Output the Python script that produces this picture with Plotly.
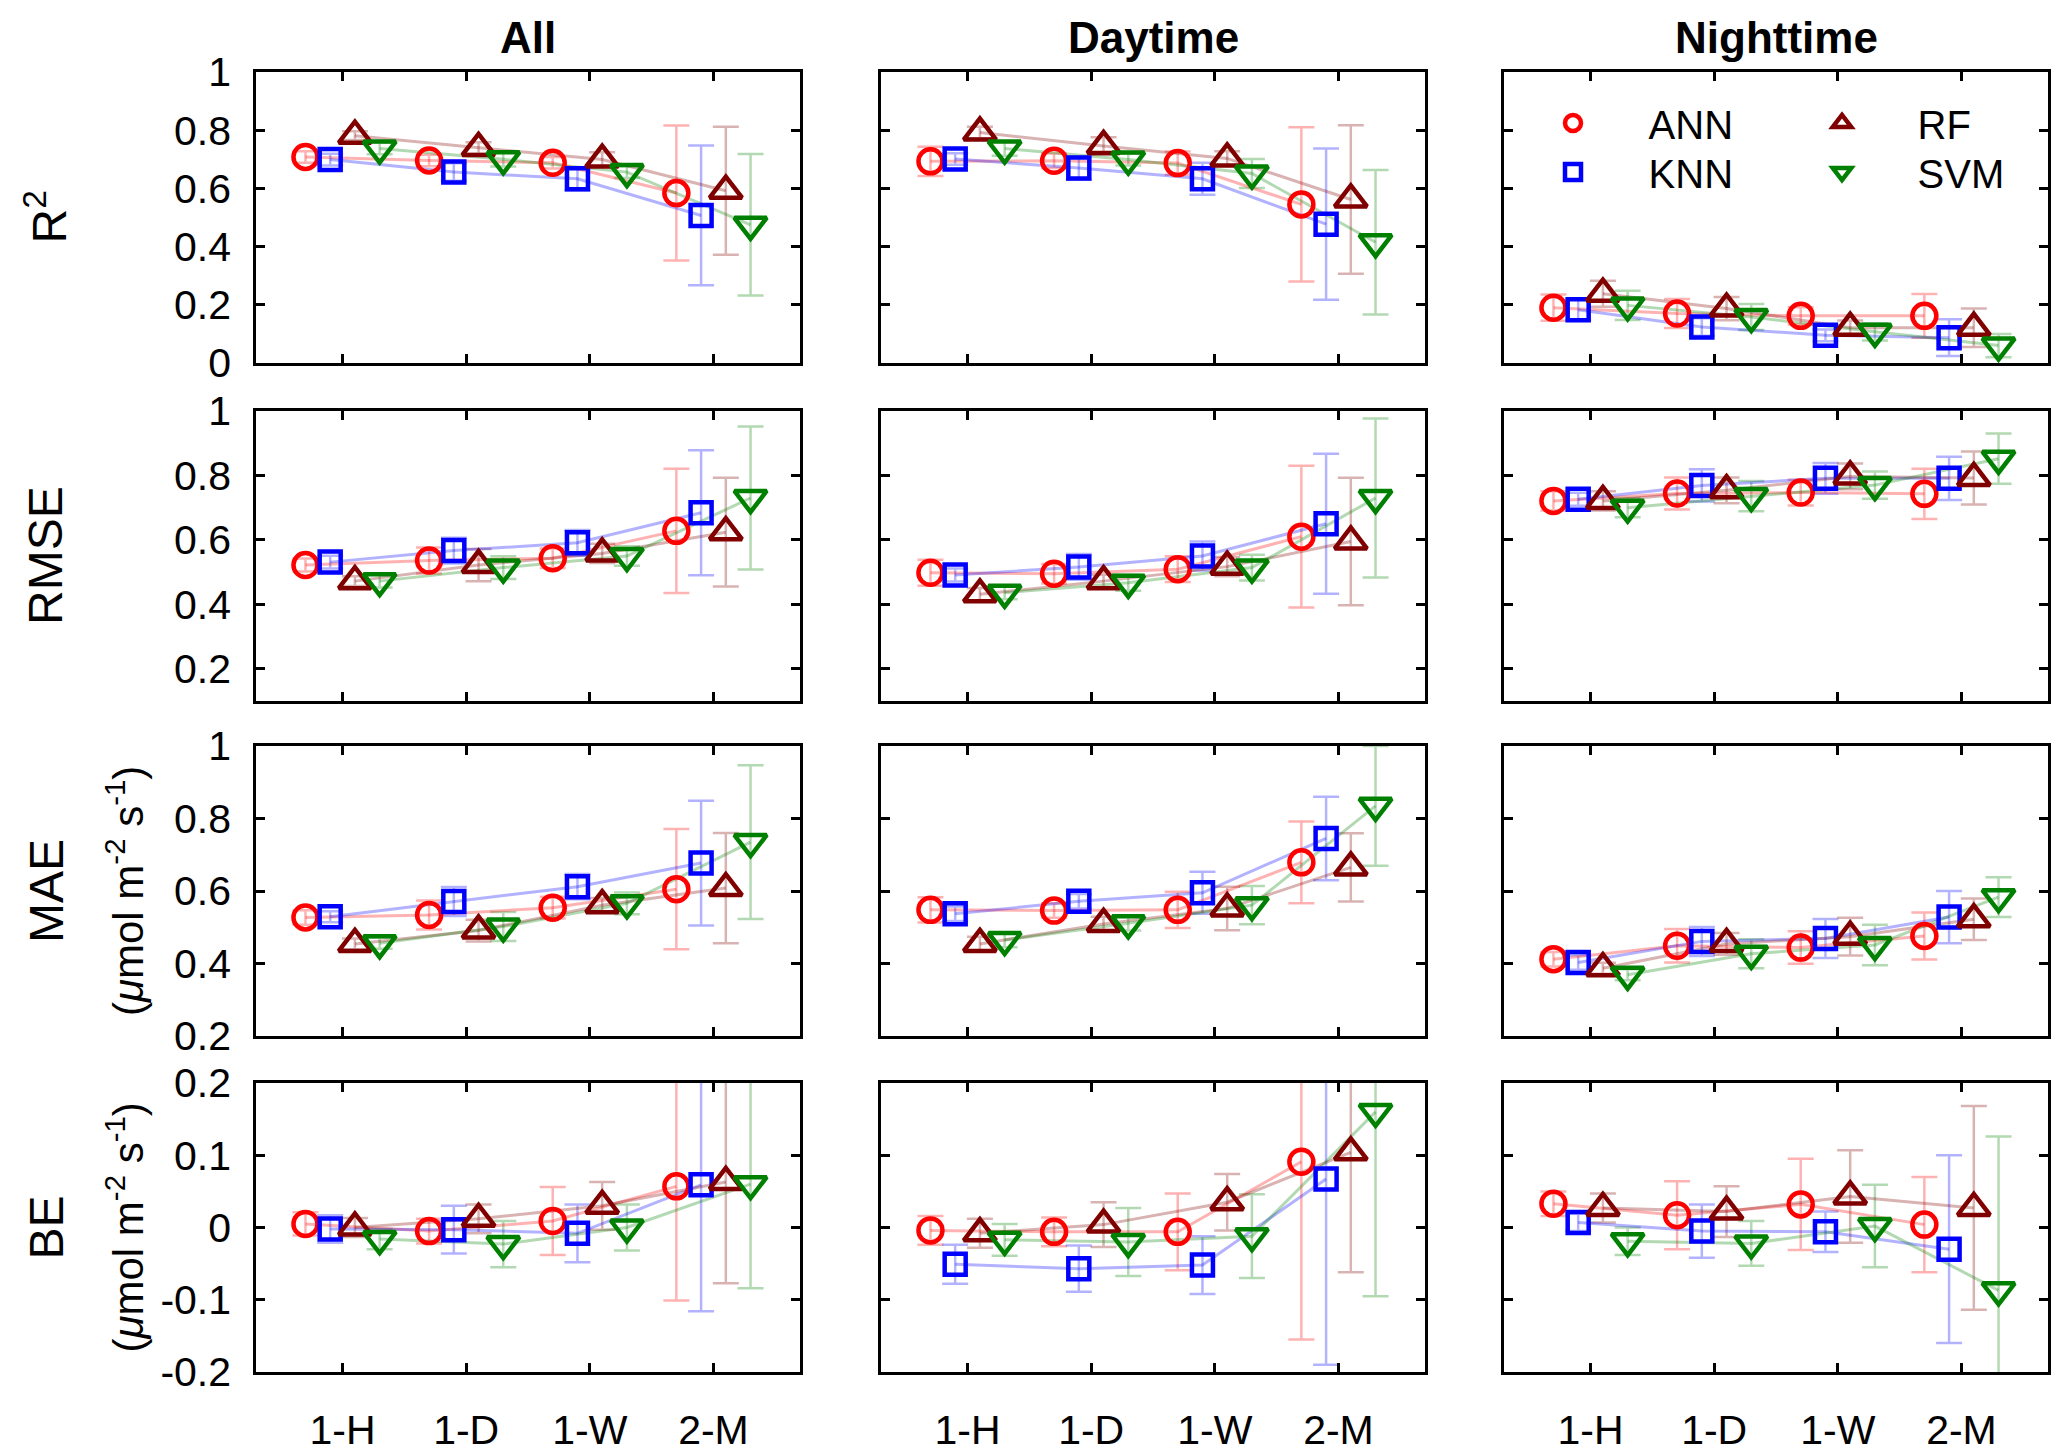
import plotly.graph_objects as go

# ---------------- data ----------------
CATEGORIES = ["1-H", "1-D", "1-W", "2-M"]
MODELS = ["ANN", "KNN", "RF", "SVM"]
PERIODS = ["All", "Daytime", "Nighttime"]
METRIC_LABELS = ["R<sup>2</sup>", "RMSE", "MAE", "BE"]
UNIT_LABEL = "(<i>μ</i>mol m<sup>-2</sup> s<sup>-1</sup>)"

# y tick values / labels per metric row
R2_TICKS = [0, 0.2, 0.4, 0.6, 0.8, 1]
R2_TICKTEXT = ["0", "0.2", "0.4", "0.6", "0.8", "1"]
RMSE_TICKS = [0.2, 0.4, 0.6, 0.8, 1]
RMSE_TICKTEXT = ["0.2", "0.4", "0.6", "0.8", "1"]
MAE_TICKS = [0.2, 0.4, 0.6, 0.8, 1]
MAE_TICKTEXT = ["0.2", "0.4", "0.6", "0.8", "1"]
BE_TICKS = [-0.2, -0.1, 0, 0.1, 0.2]
BE_TICKTEXT = ["-0.2", "-0.1", "0", "0.1", "0.2"]

R2_RANGE = [0, 1]
RMSE_RANGE = [0.1, 1]
MAE_RANGE = [0.2, 1]
BE_RANGE = [-0.2, 0.2]

# ---- R2 ----
R2_ALL = {"ANN": [0.708, 0.696, 0.688, 0.584], "KNN": [0.699, 0.656, 0.633, 0.507],
          "RF": [0.781, 0.739, 0.699, 0.592], "SVM": [0.737, 0.700, 0.656, 0.475]}
R2_ALL_ERR = {"ANN": [0.02, 0.02, 0.02, 0.232], "KNN": [0.02, 0.03, 0.04, 0.24],
              "RF": [0.015, 0.02, 0.025, 0.22], "SVM": [0.02, 0.025, 0.02, 0.243]}
R2_DAY = {"ANN": [0.693, 0.695, 0.687, 0.545], "KNN": [0.701, 0.670, 0.633, 0.477],
          "RF": [0.792, 0.746, 0.703, 0.562], "SVM": [0.737, 0.699, 0.651, 0.415]}
R2_DAY_ERR = {"ANN": [0.05, 0.025, 0.04, 0.265], "KNN": [0.02, 0.04, 0.055, 0.26],
              "RF": [0.02, 0.03, 0.025, 0.255], "SVM": [0.025, 0.02, 0.05, 0.248]}
R2_NIGHT = {"ANN": [0.190, 0.170, 0.162, 0.162], "KNN": [0.183, 0.124, 0.095, 0.087],
            "RF": [0.238, 0.187, 0.121, 0.121], "SVM": [0.198, 0.158, 0.107, 0.060]}
R2_NIGHT_ERR = {"ANN": [0.045, 0.05, 0.03, 0.075], "KNN": [0.035, 0.03, 0.02, 0.063],
                "RF": [0.045, 0.04, 0.025, 0.066], "SVM": [0.05, 0.045, 0.03, 0.04]}

# ---- RMSE ----
RMSE_ALL = {"ANN": [0.522, 0.536, 0.543, 0.628], "KNN": [0.531, 0.567, 0.591, 0.684],
            "RF": [0.472, 0.522, 0.558, 0.624], "SVM": [0.472, 0.514, 0.550, 0.730]}
RMSE_ALL_ERR = {"ANN": [0.02, 0.04, 0.03, 0.193], "KNN": [0.02, 0.04, 0.04, 0.194],
                "RF": [0.015, 0.05, 0.03, 0.169], "SVM": [0.02, 0.035, 0.03, 0.222]}
RMSE_DAY = {"ANN": [0.498, 0.495, 0.509, 0.610], "KNN": [0.491, 0.516, 0.550, 0.650],
            "RF": [0.431, 0.472, 0.517, 0.595], "SVM": [0.436, 0.467, 0.514, 0.730]}
RMSE_DAY_ERR = {"ANN": [0.04, 0.03, 0.04, 0.22], "KNN": [0.02, 0.04, 0.045, 0.217],
                "RF": [0.02, 0.02, 0.03, 0.198], "SVM": [0.02, 0.025, 0.04, 0.247]}
RMSE_NIGHT = {"ANN": [0.721, 0.744, 0.747, 0.743], "KNN": [0.726, 0.769, 0.791, 0.791],
              "RF": [0.721, 0.754, 0.797, 0.792], "SVM": [0.700, 0.736, 0.770, 0.852]}
RMSE_NIGHT_ERR = {"ANN": [0.03, 0.05, 0.04, 0.078], "KNN": [0.02, 0.05, 0.048, 0.067],
                  "RF": [0.03, 0.04, 0.04, 0.082], "SVM": [0.03, 0.047, 0.042, 0.078]}

# ---- MAE ----
MAE_ALL = {"ANN": [0.527, 0.534, 0.554, 0.605], "KNN": [0.529, 0.571, 0.612, 0.677],
           "RF": [0.454, 0.491, 0.561, 0.608], "SVM": [0.456, 0.502, 0.566, 0.735]}
MAE_ALL_ERR = {"ANN": [0.02, 0.04, 0.03, 0.166], "KNN": [0.015, 0.04, 0.035, 0.172],
               "RF": [0.015, 0.03, 0.02, 0.152], "SVM": [0.015, 0.04, 0.03, 0.212]}
MAE_DAY = {"ANN": [0.548, 0.546, 0.548, 0.679], "KNN": [0.537, 0.572, 0.595, 0.745],
           "RF": [0.454, 0.509, 0.552, 0.665], "SVM": [0.465, 0.511, 0.561, 0.835]}
MAE_DAY_ERR = {"ANN": [0.035, 0.02, 0.05, 0.113], "KNN": [0.02, 0.02, 0.058, 0.115],
               "RF": [0.02, 0.02, 0.06, 0.094], "SVM": [0.02, 0.02, 0.053, 0.165]}
MAE_NIGHT = {"ANN": [0.412, 0.449, 0.444, 0.476], "KNN": [0.403, 0.461, 0.469, 0.528],
             "RF": [0.387, 0.454, 0.474, 0.522], "SVM": [0.369, 0.427, 0.451, 0.583]}
MAE_NIGHT_ERR = {"ANN": [0.02, 0.046, 0.045, 0.065], "KNN": [0.02, 0.04, 0.054, 0.072],
                 "RF": [0.015, 0.03, 0.052, 0.057], "SVM": [0.015, 0.04, 0.056, 0.055]}

# ---- BE ----
BE_ALL = {"ANN": [0.005, -0.005, 0.009, 0.057], "KNN": [-0.002, -0.003, -0.008, 0.059],
          "RF": [0.000, 0.012, 0.030, 0.063], "SVM": [-0.016, -0.023, 0.000, 0.060]}
BE_ALL_ERR = {"ANN": [0.016, 0.017, 0.047, 0.158], "KNN": [0.019, 0.033, 0.04, 0.175],
              "RF": [0.013, 0.02, 0.033, 0.14], "SVM": [0.014, 0.032, 0.032, 0.144]}
BE_DAY = {"ANN": [-0.004, -0.006, -0.006, 0.091], "KNN": [-0.051, -0.057, -0.052, 0.067],
          "RF": [-0.008, 0.004, 0.035, 0.104], "SVM": [-0.017, -0.020, -0.012, 0.160]}
BE_DAY_ERR = {"ANN": [0.02, 0.02, 0.053, 0.246], "KNN": [0.027, 0.032, 0.04, 0.257],
              "RF": [0.02, 0.031, 0.039, 0.166], "SVM": [0.022, 0.047, 0.058, 0.255]}
BE_NIGHT = {"ANN": [0.033, 0.017, 0.032, 0.004], "KNN": [0.007, -0.005, -0.006, -0.030],
            "RF": [0.027, 0.022, 0.043, 0.027], "SVM": [-0.019, -0.022, 0.002, -0.087]}
BE_NIGHT_ERR = {"ANN": [0.017, 0.047, 0.063, 0.066], "KNN": [0.012, 0.037, 0.028, 0.13],
                "RF": [0.02, 0.035, 0.064, 0.141], "SVM": [0.019, 0.031, 0.057, 0.213]}

# ---------------- assembly ----------------
ROWS = [
    (R2_RANGE, R2_TICKS, R2_TICKTEXT, [(R2_ALL, R2_ALL_ERR), (R2_DAY, R2_DAY_ERR), (R2_NIGHT, R2_NIGHT_ERR)]),
    (RMSE_RANGE, RMSE_TICKS, RMSE_TICKTEXT, [(RMSE_ALL, RMSE_ALL_ERR), (RMSE_DAY, RMSE_DAY_ERR), (RMSE_NIGHT, RMSE_NIGHT_ERR)]),
    (MAE_RANGE, MAE_TICKS, MAE_TICKTEXT, [(MAE_ALL, MAE_ALL_ERR), (MAE_DAY, MAE_DAY_ERR), (MAE_NIGHT, MAE_NIGHT_ERR)]),
    (BE_RANGE, BE_TICKS, BE_TICKTEXT, [(BE_ALL, BE_ALL_ERR), (BE_DAY, BE_DAY_ERR), (BE_NIGHT, BE_NIGHT_ERR)]),
]

W, H = 2067, 1453
FONT = "Liberation Sans, Arial, Helvetica, sans-serif"

STYLE = {
    "ANN": dict(color="rgb(255,0,0)", light="rgba(255,0,0,0.3)", symbol="circle-open", size=24),
    "KNN": dict(color="rgb(0,0,255)", light="rgba(0,0,255,0.3)", symbol="square-open", size=21),
    "RF": dict(color="rgb(128,0,0)", light="rgba(128,0,0,0.3)", symbol="triangle-up-open", size=28),
    "SVM": dict(color="rgb(0,128,0)", light="rgba(0,128,0,0.3)", symbol="triangle-down-open", size=28),
}
OFFSETS = [-0.3, -0.1, 0.1, 0.3]

# legend placement (pixels of the 2067x1453 canvas): marker-centre x, row-centre y
LEGEND_POS = {"ANN": ("legend", 1571, 123), "KNN": ("legend2", 1571, 172),
              "RF": ("legend3", 1840, 123), "SVM": ("legend4", 1840, 172)}

# panel pixel boxes (left, right) and (top, bottom)
COL_PX = [(256, 800), (881, 1425), (1504, 2048)]
ROW_PX = [(72, 363), (411, 701), (746, 1036), (1083, 1372)]

fig = go.Figure()
layout = {}

for r, (yrange, yt, ytt, panels) in enumerate(ROWS):
    for c, (means, errs) in enumerate(panels):
        k = r * 3 + c + 1
        xa = "x" if k == 1 else f"x{k}"
        ya = "y" if k == 1 else f"y{k}"
        xkey = "xaxis" if k == 1 else f"xaxis{k}"
        ykey = "yaxis" if k == 1 else f"yaxis{k}"
        x0, x1 = COL_PX[c]
        t0, t1 = ROW_PX[r]
        axis_common = dict(showline=True, linecolor="black", linewidth=2.5, mirror="ticks",
                           ticks="inside", ticklen=9, tickwidth=2.5, tickcolor="black",
                           showgrid=False, zeroline=False,
                           tickfont=dict(family=FONT, size=41, color="black"))
        layout[xkey] = dict(axis_common, domain=[x0 / W, x1 / W], range=[0.3, 4.7],
                            tickvals=[1, 2, 3, 4], ticktext=CATEGORIES,
                            showticklabels=(r == 3), anchor=ya, ticklabelstandoff=20)
        layout[ykey] = dict(axis_common, domain=[1 - t1 / H, 1 - t0 / H], range=yrange,
                            tickvals=yt, ticktext=ytt, showticklabels=(c == 0), anchor=xa,
                            ticklabelstandoff=14)
        # error bars
        for mi, m in enumerate(MODELS):
            st = STYLE[m]
            xs = [i + 1 + OFFSETS[mi] for i in range(len(CATEGORIES))]
            fig.add_trace(go.Scatter(
                x=xs, y=means[m], mode="markers", xaxis=xa, yaxis=ya,
                marker=dict(size=1, opacity=0),
                error_y=dict(type="data", array=errs[m], visible=True, color=st["light"],
                             thickness=2.5, width=13),
                showlegend=False, hoverinfo="skip"))
        # connecting lines
        for mi, m in enumerate(MODELS):
            st = STYLE[m]
            xs = [i + 1 + OFFSETS[mi] for i in range(len(CATEGORIES))]
            fig.add_trace(go.Scatter(
                x=xs, y=means[m], mode="lines", xaxis=xa, yaxis=ya,
                line=dict(color=st["light"], width=3),
                showlegend=False, hoverinfo="skip"))
        # markers
        for mi, m in enumerate(MODELS):
            st = STYLE[m]
            xs = [i + 1 + OFFSETS[mi] for i in range(len(CATEGORIES))]
            fig.add_trace(go.Scatter(
                x=xs, y=means[m], mode="markers", xaxis=xa, yaxis=ya,
                marker=dict(symbol=st["symbol"], size=st["size"], color=st["color"],
                            line=dict(color=st["color"], width=4.5)),
                name="\u00a0\u00a0\u00a0\u00a0\u00a0" + m, legend=LEGEND_POS[m][0],
                showlegend=(k == 1)))

annotations = []
# column titles
for c, p in enumerate(PERIODS):
    x0, x1 = COL_PX[c]
    annotations.append(dict(text=f"<b>{p}</b>", x=(x0 + x1) / 2 / W, y=1 - 37 / H,
                            xref="paper", yref="paper", showarrow=False,
                            xanchor="center", yanchor="middle",
                            font=dict(family=FONT, size=44, color="black")))
# row labels
for r, lab in enumerate(METRIC_LABELS):
    t0, t1 = ROW_PX[r]
    yc = 1 - (t0 + t1) / 2 / H
    annotations.append(dict(text=lab, x=46 / W, y=yc, xref="paper", yref="paper",
                            showarrow=False, textangle=-90, xanchor="center", yanchor="middle",
                            font=dict(family=FONT, size=48, color="black")))
    if r >= 2:
        annotations.append(dict(text=UNIT_LABEL, x=125 / W, y=yc, xref="paper", yref="paper",
                                showarrow=False, textangle=-90, xanchor="center", yanchor="middle",
                                font=dict(family=FONT, size=42, color="black")))

legends = {}
for m, (lname, lx, ly) in LEGEND_POS.items():
    legends[lname] = dict(orientation="v", bgcolor="rgba(0,0,0,0)", borderwidth=0,
                          font=dict(family=FONT, size=40, color="black"),
                          x=(lx - 18) / W, y=1 - ly / H, xanchor="left", yanchor="middle",
                          itemclick=False, itemdoubleclick=False)

fig.update_layout(
    autosize=True, margin=dict(l=0, r=0, t=0, b=0, autoexpand=False),
    paper_bgcolor="white", plot_bgcolor="white",
    font=dict(family=FONT, color="black"),
    annotations=annotations,
    hovermode=False,
    **legends,
    **layout,
)

fig.write_html(
    "out.html",
    default_width="100vw", default_height="100vh",
    config={"displayModeBar": False, "responsive": True},
    post_script=("document.body.style.margin='0px';document.body.style.overflow='hidden';"
                 "Plotly.Plots.resize(document.getElementById('{plot_id}'));"),
)
